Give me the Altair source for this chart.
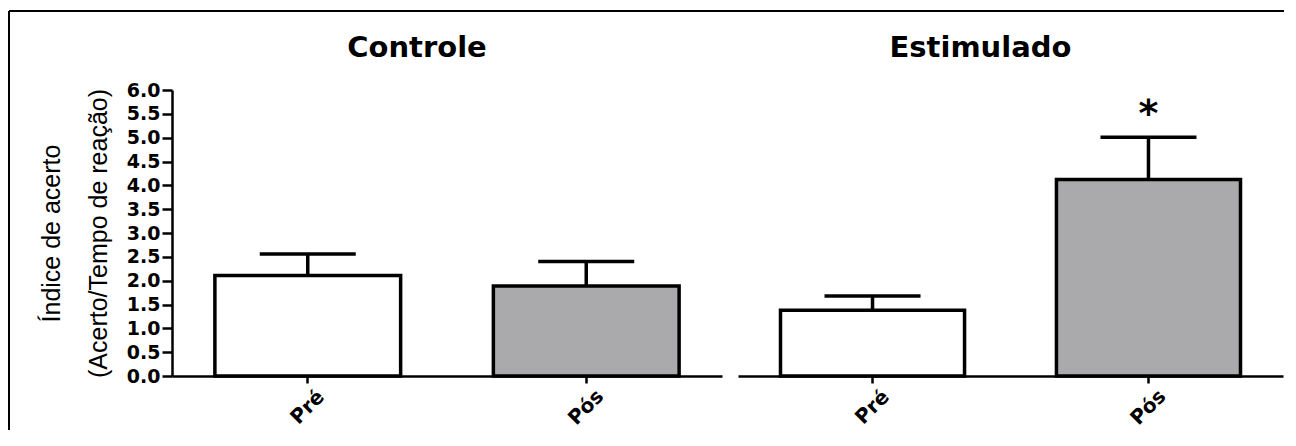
import altair as alt
import pandas as pd

grupos = ["Controle", "Controle", "Estimulado", "Estimulado"]
momentos = ["Pré", "Pós", "Pré", "Pós"]
medias = [2.11, 1.89, 1.38, 4.12]
limite_sup = [2.56, 2.40, 1.68, 5.01]
marcas = ["", "", "", "*"]
ticks_y = [0.0, 0.5, 1.0, 1.5, 2.0, 2.5, 3.0, 3.5, 4.0, 4.5, 5.0, 5.5, 6.0]
ordem = ["Pré", "Pós"]
cores = ["#ffffff", "#aaaaac"]

df = pd.DataFrame({
    "grupo": grupos,
    "momento": momentos,
    "media": medias,
    "sup": limite_sup,
    "marca": marcas,
})

W1, W2, H = 550, 545, 286
BOLD = "DejaVu Sans"


def painel(g, show_y, width, title_offset):
    base = alt.Chart(df[df["grupo"] == g])
    x = alt.X(
        "momento:N", sort=ordem,
        scale=alt.Scale(paddingInner=0.333, paddingOuter=0.154),
        axis=alt.Axis(title=None, labelAngle=-45, labelAlign="center",
                      labelBaseline="middle", labelPadding=24, tickSize=7,
                      labelFontSize=20),
    )
    if show_y:
        yax = alt.Axis(
            values=ticks_y, format=".1f", tickSize=10, labelPadding=2,
            title=["Índice de acerto", "(Acerto/Tempo de reação)"],
            titleFont="Liberation Sans", titleFontSize=25,
            titleFontWeight="normal", titleLineHeight=47, titlePadding=15,
            titleColor="black",
        )
    else:
        yax = None
    ysc = alt.Scale(domain=[0, 6], nice=False)
    fill = alt.Fill("momento:N", scale=alt.Scale(domain=ordem, range=cores), legend=None)

    rule = base.mark_rule(color="black", strokeWidth=3.5).encode(
        x=x, y=alt.Y("media:Q", scale=ysc, axis=yax), y2="sup:Q")
    cap = base.mark_tick(color="black", opacity=1, thickness=3.5, size=96,
                         orient="horizontal").encode(
        x=x, y=alt.Y("sup:Q", scale=ysc, axis=yax))
    bars = base.mark_bar(stroke="black", strokeWidth=3.5, opacity=1).encode(
        x=x, y=alt.Y("media:Q", scale=ysc, axis=yax), fill=fill)
    star = base.mark_text(font=BOLD, fontSize=38, fontWeight="bold", dy=-22,
                          baseline="middle", color="black").encode(
        x=x, y=alt.Y("sup:Q", scale=ysc, axis=yax), text="marca:N")
    layers = [rule, cap, bars, star]
    if show_y:
        frame_df = pd.DataFrame({"f": [0]})
        left = alt.Chart(frame_df).mark_rule(color="black", strokeWidth=2).encode(
            x=alt.value(-163), y=alt.value(-79), y2=alt.value(340))
        top = alt.Chart(frame_df).mark_rule(color="black", strokeWidth=2).encode(
            x=alt.value(-163), x2=alt.value(1112), y=alt.value(-79), y2=alt.value(-79))
        layers += [left, top]
    return alt.layer(*layers).properties(
        width=width, height=H,
        title=alt.TitleParams(text=g, font=BOLD, fontSize=29, fontWeight="bold",
                              color="black", anchor="middle", frame="group",
                              dx=-30, offset=title_offset),
    )


p1 = painel("Controle", True, W1, -53)
p2 = painel("Estimulado", False, W2, 27)

chart = alt.hconcat(p1, p2, spacing=16, bounds="flush").properties(
    padding={"left": 0, "top": 2, "right": 0, "bottom": 0}
).configure_view(stroke=None).configure_axis(
    domainColor="black", domainWidth=2.5, tickColor="black", tickWidth=2.5,
    labelColor="black", labelFont=BOLD, labelFontWeight="bold", labelFontSize=19,
    grid=False,
)

chart.save("out.html", embed_options={"renderer": "svg", "actions": False})
